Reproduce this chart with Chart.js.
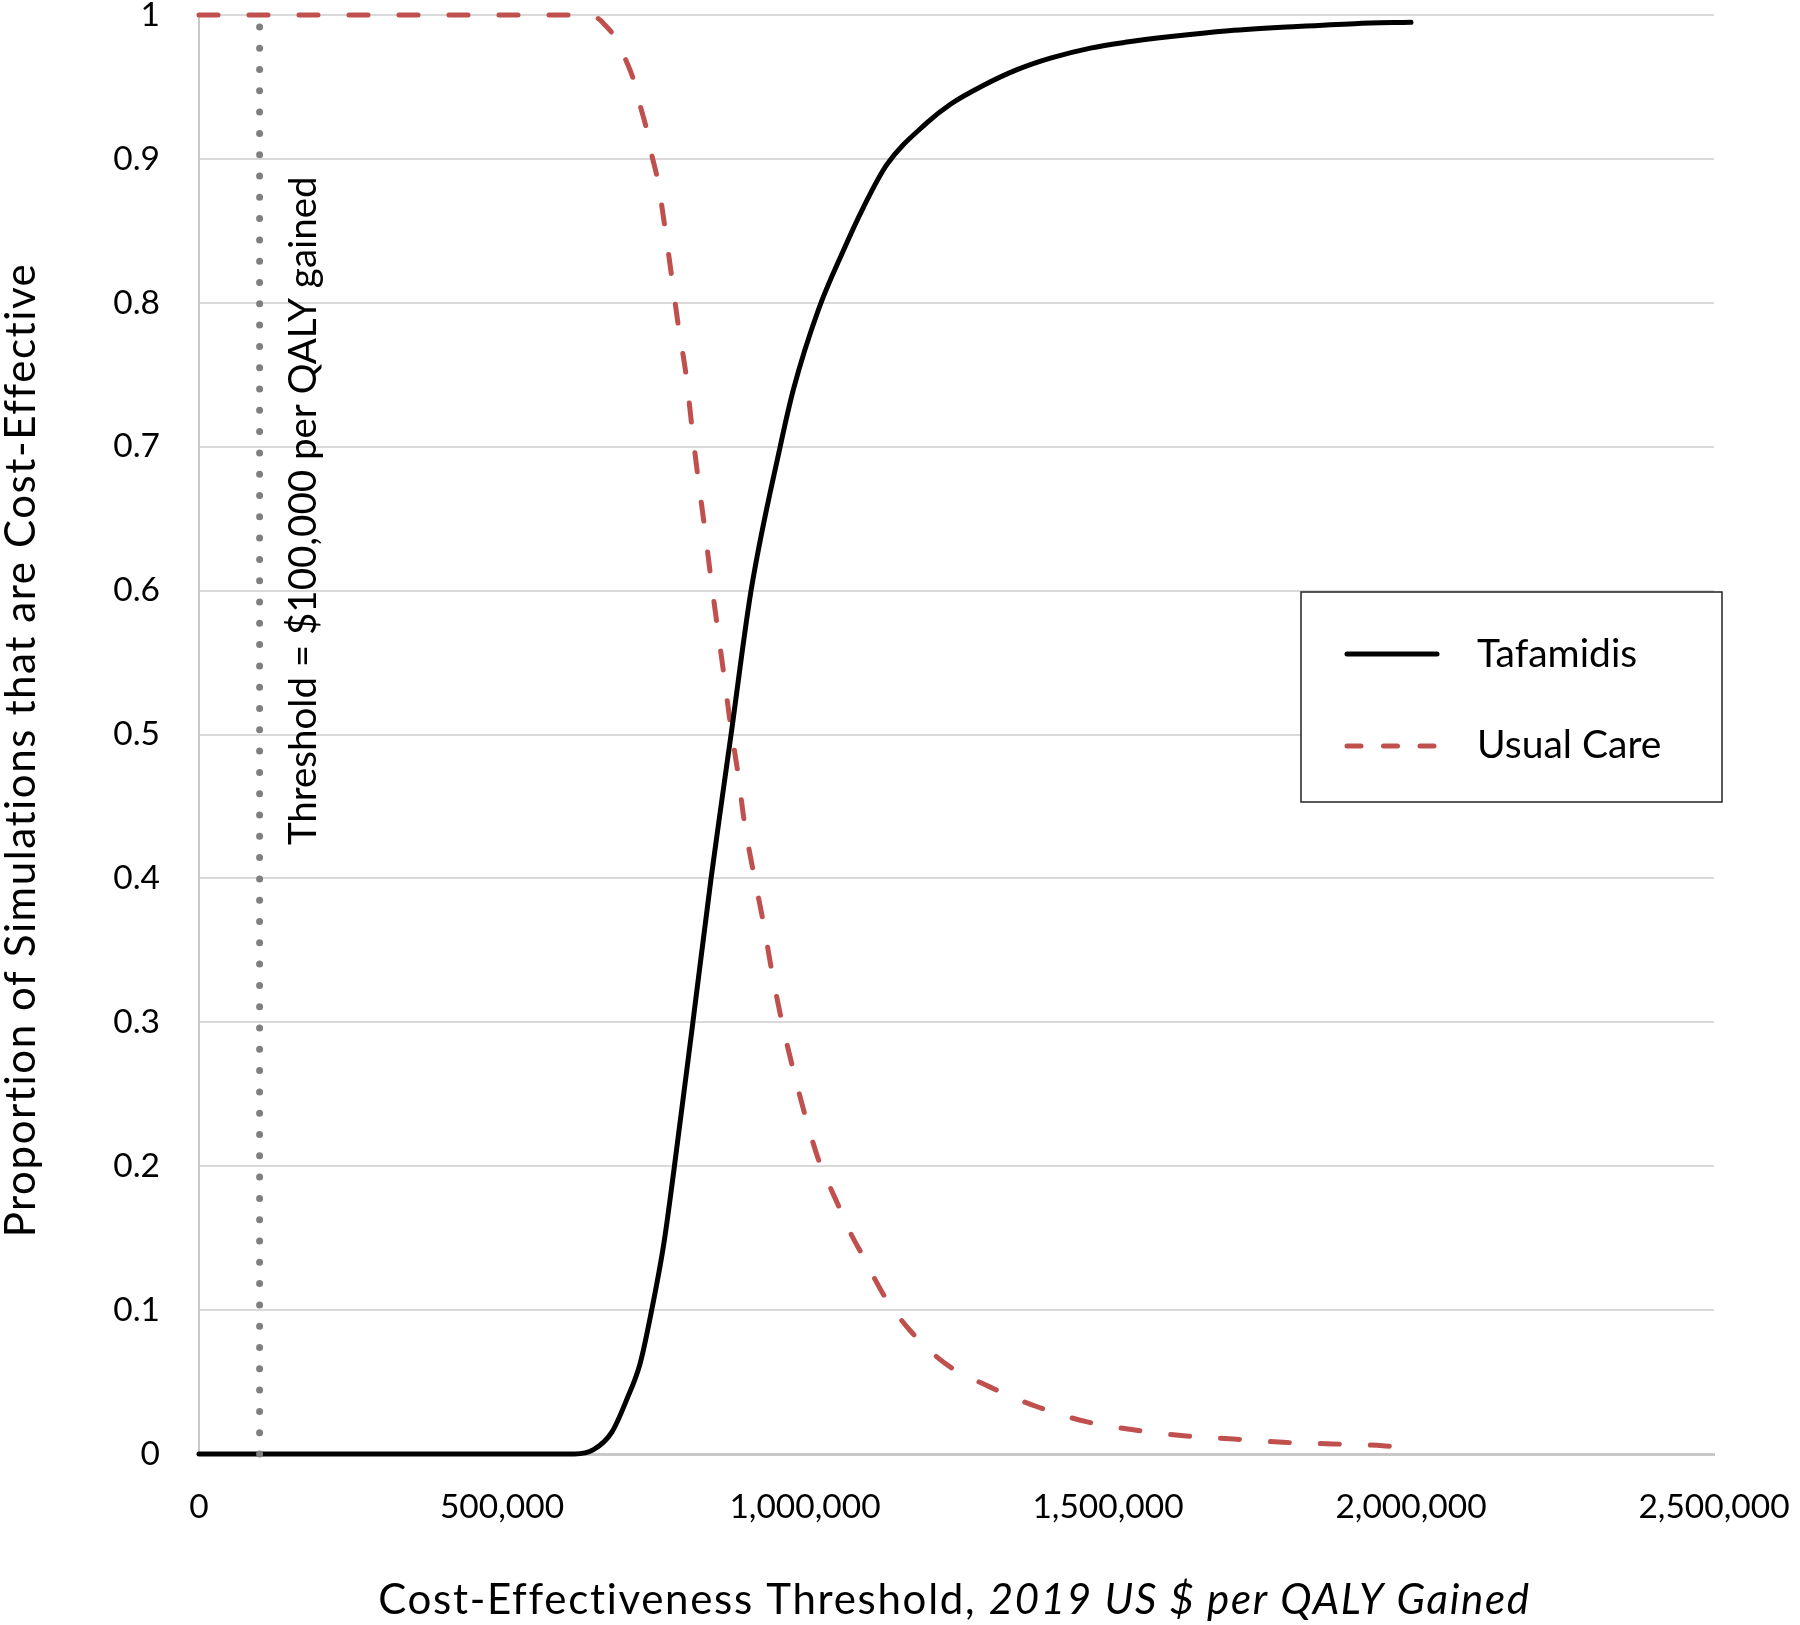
<!DOCTYPE html>
<html><head><meta charset="utf-8">
<script src="https://cdn.jsdelivr.net/npm/chart.js@4.4.1/dist/chart.umd.min.js"></script>
<style>html,body{margin:0;padding:0;background:#fff;}#wrap{width:1800px;height:1625px;position:relative;}</style>
</head><body><div id="wrap"><canvas id="c" width="1800" height="1625"></canvas></div>
<script>
// ---- data ----
const tafamidisX = [0, 620000, 651000, 681000, 706000, 728000, 747000, 767000, 783000, 815000, 845000, 863000, 878000, 911000, 959000, 981000, 1022000, 1063000, 1096000, 1135000, 1201000, 1240000, 1294000, 1350000, 1405000, 1471000, 1528000, 1604000, 1699000, 1812000, 1907000, 2000000];
const tafamidisY = [0, 0, 0.003, 0.015, 0.038, 0.063, 0.100, 0.146, 0.195, 0.300, 0.400, 0.455, 0.500, 0.600, 0.700, 0.740, 0.795, 0.836, 0.866, 0.896, 0.925, 0.938, 0.951, 0.962, 0.970, 0.977, 0.981, 0.985, 0.989, 0.992, 0.994, 0.995];
const usualCareX = [0, 640000, 657000, 670000, 684000, 703000, 717000, 728000, 739000, 747000, 756000, 769000, 780000, 791000, 804000, 813000, 823000, 834000, 844000, 855000, 866000, 877000, 889000, 900000, 915000, 931000, 945000, 961000, 980000, 1001000, 1026000, 1043000, 1059000, 1077000, 1095000, 1116000, 1135000, 1173000, 1231000, 1303000, 1382000, 1464000, 1539000, 1625000, 1707000, 1789000, 1871000, 1953000, 1974000];
const usualCareY = [1, 1, 0.998, 0.993, 0.986, 0.970, 0.955, 0.937, 0.920, 0.903, 0.887, 0.852, 0.818, 0.784, 0.749, 0.715, 0.680, 0.645, 0.611, 0.576, 0.542, 0.507, 0.474, 0.439, 0.404, 0.370, 0.336, 0.302, 0.268, 0.234, 0.200, 0.184, 0.169, 0.152, 0.138, 0.121, 0.107, 0.086, 0.063, 0.047, 0.033, 0.0225, 0.017, 0.0127, 0.0104, 0.0081, 0.007, 0.0058, 0.005];
const thresholdX = [100000, 100000];
const thresholdY = [0, 1];
const xTickValues = [0, 500000, 1000000, 1500000, 2000000, 2500000];
const xTickLabels = ['0', '500,000', '1,000,000', '1,500,000', '2,000,000', '2,500,000'];
const yTickValues = [0, 0.1, 0.2, 0.3, 0.4, 0.5, 0.6, 0.7, 0.8, 0.9, 1];
const yTickLabels = ['0', '0.1', '0.2', '0.3', '0.4', '0.5', '0.6', '0.7', '0.8', '0.9', '1'];
const seriesNames = ['Tafamidis', 'Usual Care'];
const thresholdLabel = 'Threshold = $100,000 per QALY gained';
const xTitleNormal = 'Cost-Effectiveness Threshold, ';
const xTitleItalic = '2019 US $ per QALY Gained';
const yTitle = 'Proportion of Simulations that are Cost-Effective';

// ---- styles ----
const FONT = 'Lato, "Open Sans", sans-serif';
const RED = '#C0504D';
const BLACK = '#000000';
const DOT = '#7F7F7F';
const RED_DASH = [19, 31];

const toPts = (xs, ys) => xs.map((v, i) => ({x: v, y: ys[i]}));

const decor = {
  id: 'decor',
  afterDraw(chart) {
    const {ctx, chartArea: a, scales: {x, y}} = chart;
    // threshold label
    ctx.save();
    ctx.fillStyle = '#000';
    ctx.font = '38.5px ' + FONT;
    ctx.translate(x.getPixelForValue(thresholdX[0]) + 56, y.getPixelForValue(0.6555));
    ctx.rotate(-Math.PI / 2);
    ctx.textAlign = 'center';
    ctx.textBaseline = 'alphabetic';
    ctx.fillText(thresholdLabel, 0, 0);
    ctx.restore();

    // y title
    ctx.save();
    ctx.fillStyle = '#000';
    ctx.font = '42px ' + FONT;
    if ('letterSpacing' in ctx) ctx.letterSpacing = '1.6px';
    ctx.translate(35, 750);
    ctx.rotate(-Math.PI / 2);
    ctx.textAlign = 'center';
    ctx.textBaseline = 'alphabetic';
    ctx.fillText(yTitle, 0, 0);
    ctx.restore();

    // x title (mixed normal / italic)
    ctx.save();
    ctx.fillStyle = '#000';
    ctx.textBaseline = 'alphabetic';
    ctx.textAlign = 'left';
    if ('letterSpacing' in ctx) ctx.letterSpacing = '1.7px';
    const fN = '42px ' + FONT, fI = 'italic 42px ' + FONT;
    ctx.font = fN; const w1 = ctx.measureText(xTitleNormal).width;
    ctx.font = fI; const w2 = ctx.measureText(xTitleItalic).width;
    const cx = (a.left + a.right) / 2 - 2;
    let sx = cx - (w1 + w2) / 2;
    ctx.font = fN; ctx.fillText(xTitleNormal, sx, 1614);
    ctx.font = fI; ctx.fillText(xTitleItalic, sx + w1, 1614);
    ctx.restore();

    // legend
    ctx.save();
    ctx.fillStyle = '#fff';
    ctx.fillRect(1301, 592, 421, 210);
    ctx.strokeStyle = '#222';
    ctx.lineWidth = 1.5;
    ctx.strokeRect(1301, 592, 421, 210);
    ctx.lineWidth = 5;
    ctx.lineCap = 'round';
    ctx.strokeStyle = BLACK;
    ctx.beginPath(); ctx.moveTo(1347, 654); ctx.lineTo(1437, 654); ctx.stroke();
    ctx.strokeStyle = RED;
    ctx.setLineDash([14, 22.5]);
    ctx.beginPath(); ctx.moveTo(1347, 746); ctx.lineTo(1437, 746); ctx.stroke();
    ctx.setLineDash([]);
    ctx.fillStyle = '#000';
    ctx.font = '39px ' + FONT;
    ctx.textAlign = 'left';
    ctx.textBaseline = 'alphabetic';
    ctx.fillText(seriesNames[0], 1477, 667);
    ctx.fillText(seriesNames[1], 1477, 758);
    ctx.restore();
  }
};

function draw() {
  new Chart(document.getElementById('c'), {
    type: 'line',
    data: {
      datasets: [
        {
          label: 'Threshold', data: toPts(thresholdX, thresholdY),
          borderColor: DOT, borderWidth: 7, borderDash: [0, 21.3], borderCapStyle: 'round',
          pointRadius: 0, fill: false, clip: false, tension: 0
        },
        {
          label: seriesNames[0], data: toPts(tafamidisX, tafamidisY),
          borderColor: BLACK, borderWidth: 5, pointRadius: 0, fill: false,
          cubicInterpolationMode: 'monotone', clip: false, borderCapStyle: 'round', borderJoinStyle: 'round'
        },
        {
          label: seriesNames[1], data: toPts(usualCareX, usualCareY),
          borderColor: RED, borderWidth: 5, borderDash: RED_DASH, borderCapStyle: 'round',
          pointRadius: 0, fill: false, cubicInterpolationMode: 'monotone', clip: false
        }
      ]
    },
    options: {
      responsive: false,
      animation: false,
      devicePixelRatio: 1,
      layout: {autoPadding: false, padding: {left: 0, top: 15, right: 86, bottom: 0}},
      plugins: {legend: {display: false}, tooltip: {enabled: false}, title: {display: false}},
      scales: {
        x: {
          type: 'linear', min: 0, max: 2500000,
          afterBuildTicks: s => { s.ticks = xTickValues.map(v => ({value: v})); },
          afterFit: s => { s.height = 171; s.paddingLeft = 0; s.paddingRight = 0; },
          grid: {display: false, drawTicks: false},
          border: {display: true, color: '#C8C8C8', width: 3},
          ticks: {
            padding: 33, color: '#000', maxRotation: 0, autoSkip: false,
            font: {family: FONT, size: 33.5, lineHeight: 1.2},
            callback: (v, i) => xTickLabels[i]
          },
          title: {display: false}
        },
        y: {
          type: 'linear', min: 0, max: 1,
          afterBuildTicks: s => { s.ticks = yTickValues.map(v => ({value: v})); },
          afterFit: s => { s.width = 199; s.paddingTop = 0; s.paddingBottom = 0; },
          grid: {display: true, color: '#D9D9D9', lineWidth: 2, drawTicks: false},
          border: {display: true, color: '#C8C8C8', width: 2},
          ticks: {
            padding: 39, color: '#000', autoSkip: false,
            font: {family: FONT, size: 33.5, lineHeight: 1.2},
            callback: (v, i) => yTickLabels[i]
          },
          title: {display: false}
        }
      }
    },
    plugins: [decor]
  });
}
if (document.fonts && document.fonts.load) {
  Promise.all([document.fonts.load('32px Lato'), document.fonts.load('italic 40px Lato')]).then(draw, draw);
} else { draw(); }
</script></body></html>
